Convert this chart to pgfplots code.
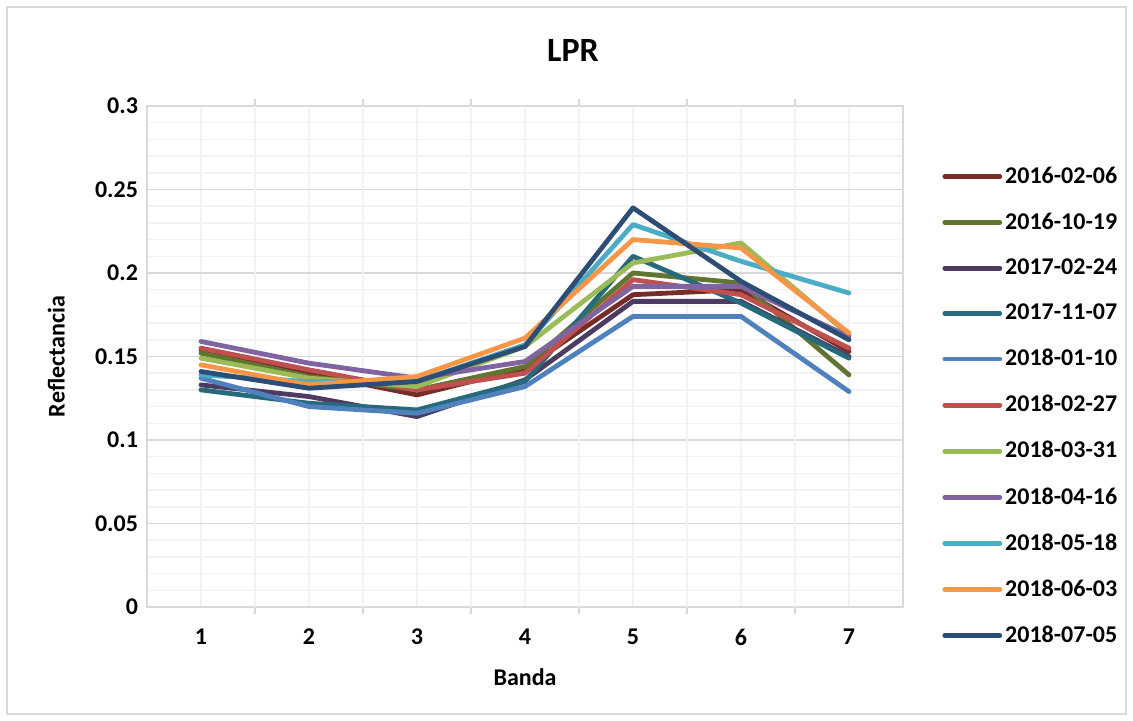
\documentclass[border=0pt]{standalone}
\usepackage{fontspec}
\setmainfont{Carlito}
\usepackage{pgfplots}
\pgfplotsset{compat=1.18}
\definecolor{gmaj}{HTML}{D9D9D9}
\definecolor{gmin}{HTML}{F2F2F2}
\definecolor{cA}{HTML}{772C2A}
\definecolor{cB}{HTML}{5F7530}
\definecolor{cC}{HTML}{4D3B62}
\definecolor{cD}{HTML}{276A7C}
\definecolor{cE}{HTML}{4F81BD}
\definecolor{cF}{HTML}{C0504D}
\definecolor{cG}{HTML}{9BBB59}
\definecolor{cH}{HTML}{8064A2}
\definecolor{cI}{HTML}{4BACC6}
\definecolor{cJ}{HTML}{F79646}
\definecolor{cK}{HTML}{2C4D75}
\newcommand{\lblfont}{\bfseries\fontsize{12}{14}\selectfont}
\begin{document}
\begin{tikzpicture}[x=1pt,y=1pt]
\path[use as bounding box] (0,0) rectangle (566.5,360.5);
\draw[color=gmaj, line width=0.75pt] (3.5,3.5) rectangle (563,357);
\node[font=\bfseries\fontsize{17}{20}\selectfont] at (286.5,335.5) {LPR};
\begin{axis}[
  at={(73.5pt,57pt)}, anchor=south west, scale only axis,
  width=378pt, height=250.5pt,
  xmin=0.5, xmax=7.5, ymin=0, ymax=0.3,
  xtick={1,2,3,4,5,6,7},
  xticklabels={1,2,3,4,5,6,7},
  ytick={0,0.05,0.1,0.15,0.2,0.25,0.3},
  yticklabels={0,0.05,0.1,0.15,0.2,0.25,0.3},
  minor y tick num=4,
  extra x ticks={1.5,2.5,3.5,4.5,5.5,6.5},
  extra x tick labels={},
  extra x tick style={grid=major, major grid style={color=gmaj, line width=0.75pt},
     major tick length=3.5pt, tick align=outside, tick style={color=gmaj, line width=0.75pt}},
  xmajorgrids, ymajorgrids, yminorgrids,
  x grid style={color=gmin, line width=0.75pt},
  y grid style={line width=0.75pt},
  major grid style={color=gmaj},
  minor grid style={color=gmin},
  axis line style={color=gmaj, line width=0.75pt},
  major tick length=0pt, minor tick length=0pt,
  tick label style={font=\lblfont, text=black},
  xticklabel style={yshift=-7.5pt},
  yticklabel style={xshift=-1pt},
  xlabel={Banda}, ylabel={Reflectancia},
  label style={font=\lblfont},
  xlabel style={at={(axis description cs:0.5,-0.1397)}, anchor=center},
  ylabel style={at={(axis description cs:-0.12,0.5)}, anchor=center},
  every axis plot/.append style={line width=2.4pt, line join=round, line cap=round},
  legend style={draw=none, fill=none, at={(1.0516,0.885)}, anchor=north west,
     font=\lblfont, row sep=10.25pt, inner sep=0pt, nodes={inner sep=1.5pt}},
  legend cell align=left,
  legend image code/.code={\draw[#1, line cap=round] (0pt,0pt) -- (27.5pt,0pt);},
]
\addplot[cA] coordinates {(1,0.154) (2,0.140) (3,0.127) (4,0.143) (5,0.187) (6,0.190) (7,0.153)};
\addlegendentry{2016-02-06}
\addplot[cB] coordinates {(1,0.152) (2,0.138) (3,0.130) (4,0.144) (5,0.200) (6,0.194) (7,0.139)};
\addlegendentry{2016-10-19}
\addplot[cC] coordinates {(1,0.133) (2,0.126) (3,0.114) (4,0.136) (5,0.183) (6,0.183) (7,0.150)};
\addlegendentry{2017-02-24}
\addplot[cD] coordinates {(1,0.130) (2,0.122) (3,0.118) (4,0.135) (5,0.210) (6,0.182) (7,0.149)};
\addlegendentry{2017-11-07}
\addplot[cE] coordinates {(1,0.137) (2,0.120) (3,0.116) (4,0.132) (5,0.174) (6,0.174) (7,0.129)};
\addlegendentry{2018-01-10}
\addplot[cF] coordinates {(1,0.155) (2,0.142) (3,0.130) (4,0.140) (5,0.196) (6,0.187) (7,0.155)};
\addlegendentry{2018-02-27}
\addplot[cG] coordinates {(1,0.149) (2,0.137) (3,0.132) (4,0.156) (5,0.206) (6,0.218) (7,0.163)};
\addlegendentry{2018-03-31}
\addplot[cH] coordinates {(1,0.159) (2,0.146) (3,0.137) (4,0.147) (5,0.192) (6,0.192) (7,0.162)};
\addlegendentry{2018-04-16}
\addplot[cI] coordinates {(1,0.139) (2,0.135) (3,0.135) (4,0.157) (5,0.229) (6,0.207) (7,0.188)};
\addlegendentry{2018-05-18}
\addplot[cJ] coordinates {(1,0.145) (2,0.133) (3,0.138) (4,0.161) (5,0.220) (6,0.215) (7,0.164)};
\addlegendentry{2018-06-03}
\addplot[cK] coordinates {(1,0.141) (2,0.131) (3,0.135) (4,0.156) (5,0.239) (6,0.195) (7,0.160)};
\addlegendentry{2018-07-05}
\end{axis}
\end{tikzpicture}
\end{document}
